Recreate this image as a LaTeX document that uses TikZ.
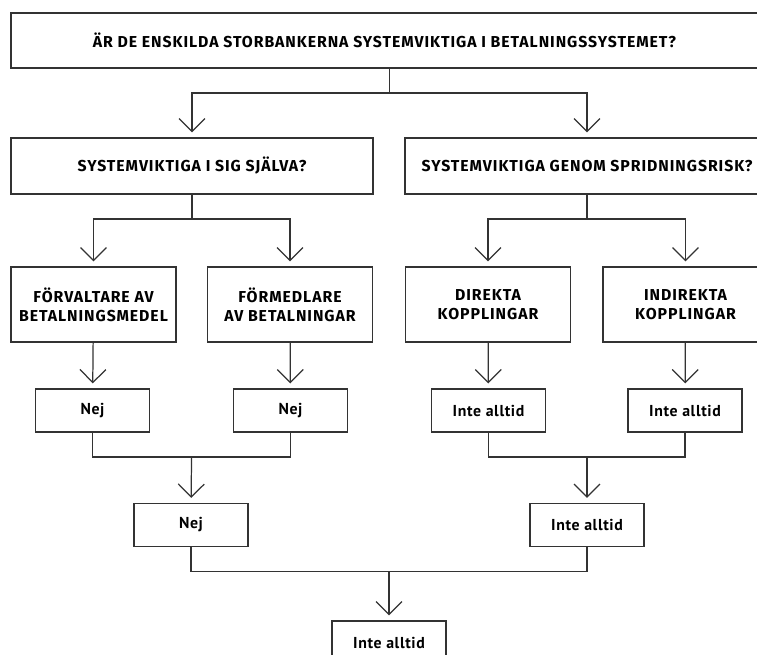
\documentclass[tikz,border=0pt]{standalone}
\usepackage{fontspec}
\setmainfont{Fira Sans}
\newfontfamily\capsfont[LetterSpace=6]{Fira Sans}
\newfontfamily\answerfont[LetterSpace=4]{PT Sans}
\usetikzlibrary{arrows.meta}

\begin{document}
\begin{tikzpicture}[
    questionbox/.style={
        draw=black!80, line width=0.7pt,
        minimum height=1.1cm, inner sep=2pt,
        font=\capsfont\bfseries\fontsize{9}{10.8}\selectfont, align=center
    },
    rolebox/.style={
        draw=black!80, line width=0.7pt,
        minimum width=3.3cm, minimum height=1.5cm, inner sep=2pt,
        font=\capsfont\bfseries\fontsize{9}{10.8}\selectfont, align=center
    },
    answerbox/.style={
        draw=black!80, line width=0.7pt,
        minimum width=2.28cm, minimum height=0.86cm, inner sep=2pt,
        font=\answerfont\bfseries\fontsize{9}{10.8}\selectfont, align=center
    },
    linestyle/.style={
        draw=black!80, line width=0.7pt
    },
    arrowstyle/.style={
        linestyle, -{Straight Barb[length=0.26cm, width=0.52cm]}, shorten >=0.1cm
    }
]
\useasboundingbox (0,0) rectangle (15.14,13.1);

% Main question
\node[questionbox, minimum width=14.94cm] (top) at (7.69,12.29)
    {ÄR DE ENSKILDA STORBANKERNA SYSTEMVIKTIGA I BETALNINGSSYSTEMET?};

% Two ways to be important
\node[questionbox, minimum width=7.24cm, minimum height=1.12cm] (self)   at ( 3.84,9.78) {SYSTEMVIKTIGA I SIG SJÄLVA?};
\node[questionbox, minimum width=7.28cm, minimum height=1.12cm] (spread) at (11.74,9.78) {SYSTEMVIKTIGA GENOM SPRIDNINGSRISK?};

% Roles and links
\node[rolebox] (manage)   at ( 1.87,7.01) {FÖRVALTARE AV\\BETALNINGSMEDEL};
\node[rolebox] (mediate)  at ( 5.80,7.01) {FÖRMEDLARE\\AV BETALNINGAR};
\node[rolebox] (direct)   at ( 9.76,7.01) {DIREKTA\\KOPPLINGAR};
\node[rolebox] (indirect) at (13.71,7.01) {INDIREKTA\\KOPPLINGAR};

% Answers
\node[answerbox] (nej1) at ( 1.85,4.89) {Nej};
\node[answerbox] (nej2) at ( 5.81,4.89) {Nej};
\node[answerbox] (ia1)  at ( 9.77,4.89) {Inte alltid};
\node[answerbox] (ia2)  at (13.70,4.89) {Inte alltid};

\node[answerbox] (nej3) at ( 3.82,2.60) {Nej};
\node[answerbox] (ia3)  at (11.74,2.60) {Inte alltid};

\node[answerbox] (final) at (7.78,0.25) {Inte alltid};

% Forks
\coordinate (f1) at ( 7.79,11.24);
\coordinate (f2) at ( 3.84, 8.72);
\coordinate (f3) at (11.74, 8.72);
\coordinate (f4) at ( 3.83, 3.96);
\coordinate (f5) at (11.74, 3.96);
\coordinate (f6) at ( 7.78, 1.67);

% Splitting
\draw[linestyle] (top.south -| f1) -- (f1);
\draw[arrowstyle] (f1) -| (self);
\draw[arrowstyle] (f1) -| (spread);

\draw[linestyle] (self.south -| f2) -- (f2);
\draw[arrowstyle] (f2) -| (manage);
\draw[arrowstyle] (f2) -| (mediate);

\draw[linestyle] (spread.south -| f3) -- (f3);
\draw[arrowstyle] (f3) -| (direct);
\draw[arrowstyle] (f3) -| (indirect);

% Straight down
\draw[arrowstyle] (manage)   -- (nej1);
\draw[arrowstyle] (mediate)  -- (nej2);
\draw[arrowstyle] (direct)   -- (ia1);
\draw[arrowstyle] (indirect) -- (ia2);

% Joining
\draw[linestyle] (nej1) |- (f4) -| (nej2);
\draw[arrowstyle] (f4) -- (nej3);

\draw[linestyle] (ia1) |- (f5) -| (ia2);
\draw[arrowstyle] (f5) -- (ia3);

\draw[linestyle] (nej3) |- (f6) -| (ia3);
\draw[arrowstyle] (f6) -- (final);

\end{tikzpicture}
\end{document}
